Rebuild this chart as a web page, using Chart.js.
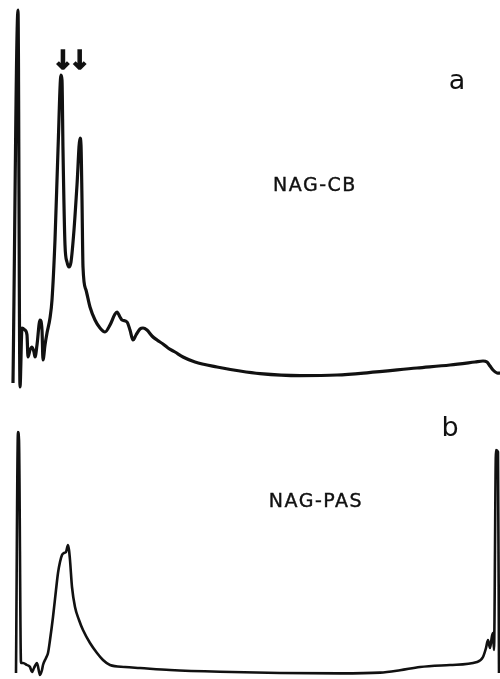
<!DOCTYPE html>
<html>
<head>
<meta charset="utf-8">
<script src="https://cdn.jsdelivr.net/npm/chart.js@4.4.1/dist/chart.umd.min.js"></script>
<style>
  body { margin: 0; background: #fff; }
  #wrap { position: relative; width: 500px; height: 679px; overflow: hidden; }
  canvas { position: absolute; left: 0; }
  .lbl { position: absolute; font-family: "DejaVu Sans", sans-serif; color: #111; white-space: nowrap; }
  .name { font-size: 19px; letter-spacing: 1.5px; transform: translate(-50%, -50%); -webkit-text-stroke: 0.4px #111; }
  .panel { font-size: 27px; transform: translate(-50%, -50%); }
  .arrows { font-size: 26px; font-weight: bold; transform: translate(-50%, -50%); letter-spacing: -5px; -webkit-text-stroke: 1.5px #111; }
</style>
</head>
<body>
<div id="wrap">
  <canvas id="chartA" width="500" height="390" style="top:0"></canvas>
  <canvas id="chartB" width="500" height="289" style="top:390px"></canvas>
  <div class="lbl arrows" style="left:69px;top:60px">↓↓</div>
  <div class="lbl panel" style="left:457px;top:79px">a</div>
  <div class="lbl name" style="left:315px;top:184px">NAG-CB</div>
  <div class="lbl panel" style="left:450px;top:426px">b</div>
  <div class="lbl name" style="left:316px;top:500px">NAG-PAS</div>
</div>
<script>
// elution time (arbitrary units, 0-100) and detector response
const timeA = [2.6, 3.6, 4.0, 4.4, 5.0, 5.4, 5.6, 6.0, 6.4, 6.8, 7.0, 7.4, 8.0, 8.4, 8.6, 9.0, 9.4, 10, 10.4, 11, 11.6, 12.2, 12.4, 12.6, 13, 13.4, 13.8, 14.2, 14.8, 15.4, 16, 16.2, 16.4, 16.6, 17.2, 18, 19, 20, 21, 22, 23, 23.4, 24, 24.4, 25.4, 26, 26.6, 27.2, 28, 28.6, 29.4, 30.4, 31.4, 32.6, 33.6, 35, 36.6, 39, 43.4, 48, 52, 60, 67.4, 73.4, 83.4, 90, 95, 96.6, 97.4, 98, 98.6, 99.4, 100];
const respA = [1.75, 95, 0.75, 15.5, 15, 13.75, 8.25, 10, 10.75, 9.5, 8.25, 11.25, 17.5, 15, 7.5, 11.25, 14.25, 18, 22.5, 37.5, 60, 78.75, 77.5, 60, 36.25, 32, 30.75, 32, 40, 51.25, 63, 61.25, 47.5, 30.75, 25, 20.75, 17.5, 15.5, 14.5, 16.25, 19, 19.5, 18.25, 17.5, 17, 15, 12.5, 13.75, 15.25, 15.5, 15, 13.5, 12.5, 11.5, 10.5, 9.5, 8.25, 7, 5.75, 4.75, 4.1, 3.6, 3.75, 4.3, 5.5, 6.25, 7, 7.25, 7, 6, 5, 4.25, 4.2];

const timeB = [3.2, 3.6, 3.8, 4.2, 4.6, 5.4, 6, 6.4, 6.8, 7.4, 8, 8.4, 8.6, 9.2, 9.6, 10, 10.6, 11.2, 11.6, 12, 12.4, 12.8, 13.2, 13.6, 13.8, 14, 14.4, 15, 15.8, 16.6, 18, 19.4, 20.6, 22, 25, 28, 34, 44, 56, 68, 76, 80, 84, 90, 95.4, 96.6, 97.2, 97.6, 98, 98.4, 98.6, 98.8, 99.2, 99.6, 99.8];
const respB = [1.5, 61.75, 59.75, 4, 4, 3.5, 3, 1.75, 2.75, 4, 1, 2.25, 3.5, 5.25, 6.5, 9.75, 15.5, 22.25, 26.5, 29.25, 31, 31.5, 31.75, 33.5, 32.25, 29.75, 23, 18, 14.75, 12.25, 9, 6.5, 4.75, 3.5, 3, 2.75, 2.25, 1.8, 1.5, 1.4, 1.6, 2.2, 3, 3.5, 4.25, 5.5, 7.75, 9.75, 7.75, 10.75, 11.5, 7.25, 57.25, 56.75, 1.5];

function makeTrace(id, xs, ys, yMax, width) {
    const pts = xs.map((x, i) => ({ x: x, y: ys[i] }));
    return new Chart(document.getElementById(id), {
        type: 'scatter',
        data: {
            datasets: [{
                data: pts,
                showLine: true,
                borderColor: '#111',
                borderWidth: width,
                pointRadius: 0,
                cubicInterpolationMode: 'monotone',
                clip: false
            }]
        },
        options: {
            responsive: false,
            animation: false,
            layout: { padding: 0 },
            plugins: { legend: { display: false }, tooltip: { enabled: false } },
            scales: {
                x: { type: 'linear', min: 0, max: 100, display: false },
                y: { min: 0, max: yMax, display: false }
            }
        }
    });
}

makeTrace('chartA', timeA, respA, 97.5, 3.2);
makeTrace('chartB', timeB, respB, 72.25, 2.6);
</script>
</body>
</html>
